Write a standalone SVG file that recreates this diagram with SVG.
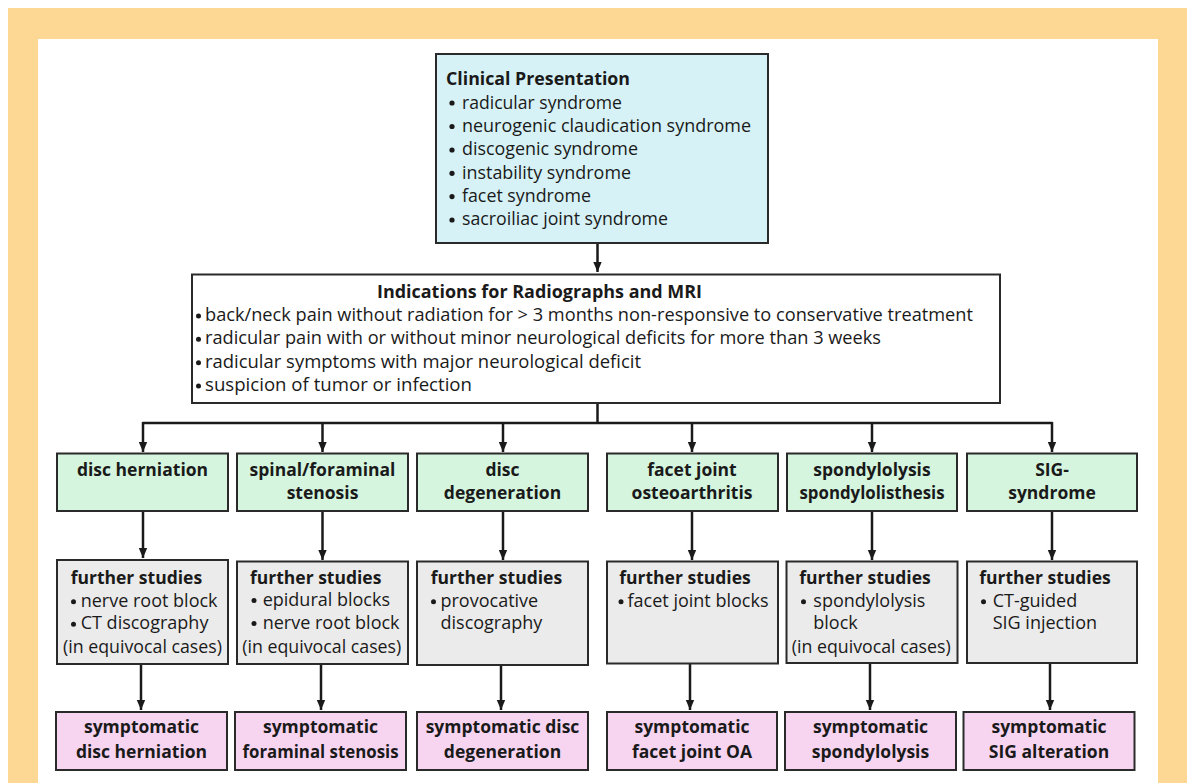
<svg xmlns="http://www.w3.org/2000/svg" width="1187" height="783" viewBox="0 0 1187 783">
<defs>
<marker id="ah" markerUnits="userSpaceOnUse" markerWidth="10" markerHeight="10" viewBox="0 0 10 10" refX="10" refY="5" orient="auto">
<path d="M0,0.8 L10,5 L0,9.2 Z" fill="#1a1a1a"/>
</marker>
<style>
text{font-family:"Open Sans","Noto Sans",sans-serif;font-size:18px;fill:#1a1a1a}
.b{font-weight:bold;font-size:17.5px}
.c{text-anchor:middle}
.box{stroke:#2a2a2a;stroke-width:2}
.cyan{fill:#D6F2F6}
.green{fill:#D5F5DF}
.gray{fill:#EBEBEB}
.pink{fill:#F7D5F1}
.white{fill:#FFFFFF}
.con{stroke:#1a1a1a;stroke-width:2.5;fill:none}
.arr{marker-end:url(#ah)}
.dot{fill:#1a1a1a}
</style>
</defs>
<rect x="0" y="0" width="1187" height="783" fill="#FFFFFF"/>
<rect x="8" y="8" width="1179" height="775" fill="#FDD794"/>
<rect x="38" y="39" width="1120" height="744" fill="#FFFFFF"/>

<g id="connectors">
<line class="con arr" x1="597.5" y1="243" x2="597.5" y2="272"/>
<polyline class="con" points="597.5,403 597.5,423"/>
<line class="con" x1="142.5" y1="423" x2="1052.5" y2="423"/>
<line class="con arr" x1="143" y1="422" x2="143" y2="452"/>
<line class="con arr" x1="322.5" y1="422" x2="322.5" y2="452"/>
<line class="con arr" x1="503" y1="422" x2="503" y2="452"/>
<line class="con arr" x1="692" y1="422" x2="692" y2="452"/>
<line class="con arr" x1="872" y1="422" x2="872" y2="452"/>
<line class="con arr" x1="1052" y1="422" x2="1052" y2="452"/>
<line class="con arr" x1="143" y1="511" x2="143" y2="558"/>
<line class="con arr" x1="322.5" y1="511" x2="322.5" y2="560"/>
<line class="con arr" x1="503" y1="511" x2="503" y2="560"/>
<line class="con arr" x1="692" y1="511" x2="692" y2="560"/>
<line class="con arr" x1="872" y1="511" x2="872" y2="560"/>
<line class="con arr" x1="1052" y1="511" x2="1052" y2="560"/>
<line class="con arr" x1="141" y1="664" x2="141" y2="710"/>
<line class="con arr" x1="321" y1="664" x2="321" y2="710"/>
<line class="con arr" x1="501" y1="665" x2="501" y2="710"/>
<line class="con arr" x1="690" y1="663" x2="690" y2="710"/>
<line class="con arr" x1="870" y1="663" x2="870" y2="710"/>
<line class="con arr" x1="1050" y1="663" x2="1050" y2="710"/>
</g>

<g id="clinical">
<rect class="box cyan" x="436" y="54" width="332" height="189"/>
<text class="b" x="446" y="85" textLength="184" lengthAdjust="spacingAndGlyphs">Clinical Presentation</text>
<circle class="dot" cx="452" cy="103" r="2.6"/>
<text x="462" y="108.5" textLength="160" lengthAdjust="spacingAndGlyphs">radicular syndrome</text>
<circle class="dot" cx="452" cy="126.5" r="2.6"/>
<text x="462" y="131.8" textLength="289" lengthAdjust="spacingAndGlyphs">neurogenic claudication syndrome</text>
<circle class="dot" cx="452" cy="150" r="2.6"/>
<text x="462" y="155.2" textLength="176" lengthAdjust="spacingAndGlyphs">discogenic syndrome</text>
<circle class="dot" cx="452" cy="173.3" r="2.6"/>
<text x="462" y="178.5" textLength="169" lengthAdjust="spacingAndGlyphs">instability syndrome</text>
<circle class="dot" cx="452" cy="196.6" r="2.6"/>
<text x="462" y="201.8" textLength="129" lengthAdjust="spacingAndGlyphs">facet syndrome</text>
<circle class="dot" cx="452" cy="220" r="2.6"/>
<text x="462" y="225.2" textLength="206" lengthAdjust="spacingAndGlyphs">sacroiliac joint syndrome</text>
</g>

<g id="indications">
<rect class="box white" x="192" y="274.5" width="808" height="128.5"/>
<text class="b" x="377" y="298.3" textLength="325" lengthAdjust="spacingAndGlyphs">Indications for Radiographs and MRI</text>
<circle class="dot" cx="198.5" cy="316" r="2.5"/>
<text x="205" y="321" textLength="768" lengthAdjust="spacingAndGlyphs">back/neck pain without radiation for &gt; 3 months non-responsive to conservative treatment</text>
<circle class="dot" cx="198.5" cy="339.3" r="2.5"/>
<text x="205" y="344.3" textLength="676" lengthAdjust="spacingAndGlyphs">radicular pain with or without minor neurological deficits for more than 3 weeks</text>
<circle class="dot" cx="198.5" cy="362.7" r="2.5"/>
<text x="205" y="367.7" textLength="436" lengthAdjust="spacingAndGlyphs">radicular symptoms with major neurological deficit</text>
<circle class="dot" cx="198.5" cy="386" r="2.5"/>
<text x="205" y="391" textLength="267" lengthAdjust="spacingAndGlyphs">suspicion of tumor or infection</text>
</g>

<g id="dx-disc-herniation">
<rect class="box green" x="57" y="453.5" width="171" height="57.5"/>
<text class="b c" x="142.5" y="476">disc herniation</text>
</g>
<g id="dx-stenosis">
<rect class="box green" x="237" y="453.5" width="171" height="57.5"/>
<text class="b c" x="322.5" y="476">spinal/foraminal</text>
<text class="b c" x="322.5" y="499.3">stenosis</text>
</g>
<g id="dx-disc-degeneration">
<rect class="box green" x="417" y="453.5" width="171" height="57.5"/>
<text class="b c" x="502.5" y="476">disc</text>
<text class="b c" x="502.5" y="499.3">degeneration</text>
</g>
<g id="dx-facet">
<rect class="box green" x="607" y="453.5" width="171" height="57.5"/>
<text class="b c" x="692" y="476">facet joint</text>
<text class="b c" x="692" y="499.3">osteoarthritis</text>
</g>
<g id="dx-spondylolysis">
<rect class="box green" x="787" y="453.5" width="170" height="57.5"/>
<text class="b c" x="872" y="476">spondylolysis</text>
<text class="b c" x="872" y="499.3" textLength="145" lengthAdjust="spacingAndGlyphs">spondylolisthesis</text>
</g>
<g id="dx-sig">
<rect class="box green" x="967" y="453.5" width="170" height="57.5"/>
<text class="b c" x="1052" y="476">SIG-</text>
<text class="b c" x="1052" y="499.3">syndrome</text>
</g>

<g id="fs-disc-herniation">
<rect class="box gray" x="57" y="560" width="171" height="104"/>
<text class="b" x="70.7" y="584">further studies</text>
<circle class="dot" cx="73.5" cy="601.7" r="2.5"/>
<text x="80.7" y="606.7">nerve root block</text>
<circle class="dot" cx="73.5" cy="624.3" r="2.5"/>
<text x="80.7" y="629.3">CT discography</text>
<text x="63" y="653" textLength="159" lengthAdjust="spacingAndGlyphs">(in equivocal cases)</text>
</g>
<g id="fs-stenosis">
<rect class="box gray" x="237" y="561.5" width="171" height="102.5"/>
<text class="b" x="250" y="584">further studies</text>
<circle class="dot" cx="254" cy="600.5" r="2.5"/>
<text x="262.7" y="605.5">epidural blocks</text>
<circle class="dot" cx="254" cy="623.5" r="2.5"/>
<text x="262.7" y="628.5">nerve root block</text>
<text x="242.3" y="653" textLength="159" lengthAdjust="spacingAndGlyphs">(in equivocal cases)</text>
</g>
<g id="fs-disc-degeneration">
<rect class="box gray" x="417" y="561.5" width="171" height="103.5"/>
<text class="b" x="430.7" y="584">further studies</text>
<circle class="dot" cx="433.5" cy="601.7" r="2.5"/>
<text x="440.5" y="606.7">provocative</text>
<text x="440.5" y="629">discography</text>
</g>
<g id="fs-facet">
<rect class="box gray" x="607" y="561.5" width="171" height="102"/>
<text class="b" x="619.3" y="584">further studies</text>
<circle class="dot" cx="621" cy="601.7" r="2.5"/>
<text x="627.5" y="606.7">facet joint blocks</text>
</g>
<g id="fs-spondylolysis">
<rect class="box gray" x="786.5" y="561.5" width="171" height="101.5"/>
<text class="b" x="799.3" y="584">further studies</text>
<circle class="dot" cx="803.5" cy="601.7" r="2.5"/>
<text x="813.3" y="606.7">spondylolysis</text>
<text x="813.3" y="629">block</text>
<text x="791.7" y="652.7" textLength="159" lengthAdjust="spacingAndGlyphs">(in equivocal cases)</text>
</g>
<g id="fs-sig">
<rect class="box gray" x="967" y="561.5" width="170" height="101.5"/>
<text class="b" x="979.3" y="584">further studies</text>
<circle class="dot" cx="983.5" cy="601.7" r="2.5"/>
<text x="992.7" y="606.7">CT-guided</text>
<text x="992.7" y="629">SIG injection</text>
</g>

<g id="sx-disc-herniation">
<rect class="box pink" x="56" y="712" width="171" height="58"/>
<text class="b c" x="141.5" y="733.3">symptomatic</text>
<text class="b c" x="141.5" y="758.3">disc herniation</text>
</g>
<g id="sx-stenosis">
<rect class="box pink" x="235" y="712" width="171" height="58"/>
<text class="b c" x="320.5" y="733.3">symptomatic</text>
<text class="b c" x="320.5" y="758.3" textLength="156" lengthAdjust="spacingAndGlyphs">foraminal stenosis</text>
</g>
<g id="sx-disc-degeneration">
<rect class="box pink" x="417" y="712" width="171" height="58"/>
<text class="b c" x="502.5" y="733.3">symptomatic disc</text>
<text class="b c" x="502.5" y="758.3">degeneration</text>
</g>
<g id="sx-facet">
<rect class="box pink" x="607" y="712" width="170" height="58"/>
<text class="b c" x="692" y="733.3">symptomatic</text>
<text class="b c" x="692" y="758.3">facet joint OA</text>
</g>
<g id="sx-spondylolysis">
<rect class="box pink" x="785" y="712" width="171" height="58"/>
<text class="b c" x="870.5" y="733.3">symptomatic</text>
<text class="b c" x="870.5" y="758.3">spondylolysis</text>
</g>
<g id="sx-sig">
<rect class="box pink" x="963.5" y="712" width="171" height="58"/>
<text class="b c" x="1049" y="733.3">symptomatic</text>
<text class="b c" x="1049" y="758.3">SIG alteration</text>
</g>
</svg>
